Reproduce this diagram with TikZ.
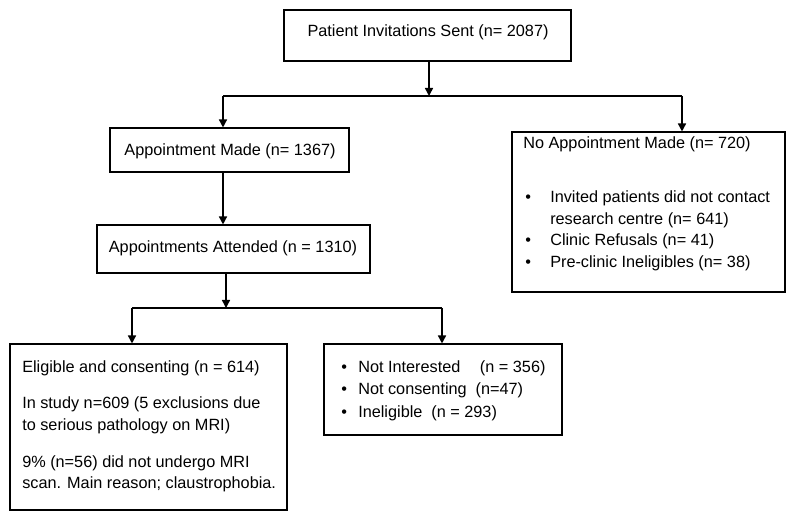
\documentclass[tikz,border=0pt]{standalone}
\usepackage{fontspec}
\setmainfont{Liberation Sans}
\usetikzlibrary{arrows.meta,fit}
\begin{document}
\begin{tikzpicture}[x=0.75pt,y=-0.75pt,
  box/.style={draw=black,line width=0.8pt,inner sep=0pt,fill=none},
  arr/.style={line width=1.1pt,-{Triangle[length=6pt,width=6pt]}},
  ln/.style={line width=1.1pt},
  txt/.style={anchor=base west,inner sep=0pt,font=\fontsize{12.2}{16}\selectfont},
  ctxt/.style={anchor=base,inner sep=0pt,font=\fontsize{12.2}{16}\selectfont}]
\useasboundingbox (0,0) rectangle (800,523);
\fill[white] (0,0) rectangle (800,523);
% boxes
\node[box,fit={(284,10) (571,61)}] (b1) {};
\node[box,fit={(110,128) (349,172)}] (b2) {};
\node[box,fit={(97,225) (370,273)}] (b3) {};
\node[box,fit={(512,132) (785,292)}] (b6) {};
\node[box,fit={(10,344) (287,510)}] (b4) {};
\node[box,fit={(324,344) (562,435)}] (b5) {};
% texts
\node[ctxt] (t1) at (428,37) {Patient Invitations Sent (n= 2087)};
\node[ctxt] (t2) at (230,156) {Appointment Made (n= 1367)};
\node[ctxt] (t3) at (233,253) {Appointments Attended (n = 1310)};
\node[txt] (t6a) at (523,149) {No Appointment Made (n= 720)};
\node[txt] (t6b) at (525,203) {\textbullet};
\node[txt] (t6c) at (550,203) {Invited patients did not contact};
\node[txt] (t6d) at (550,225) {research centre (n= 641)};
\node[txt] (t6e) at (525,246) {\textbullet};
\node[txt] (t6f) at (550,246) {Clinic Refusals (n= 41)};
\node[txt] (t6g) at (525,268) {\textbullet};
\node[txt] (t6h) at (550,268) {Pre-clinic Ineligibles (n= 38)};
\node[txt] (t4a) at (22,373) {Eligible and consenting (n = 614)};
\node[txt] (t4b) at (22,409) {In study n=609 (5 exclusions due};
\node[txt] (t4c) at (22,431) {to serious pathology on MRI)};
\node[txt] (t4d) at (22,468) {9\% (n=56) did not undergo MRI};
\node[txt] (t4e) at (22,489) {scan. Main reason; claustrophobia.};
\node[txt] (t5a) at (341,373) {\textbullet};
\node[txt] (t5b) at (358,373) {Not Interested\hspace{1.2em}(n = 356)};
\node[txt] (t5c) at (341,395) {\textbullet};
\node[txt] (t5d) at (358,395) {Not consenting\hspace{0.55em}(n=47)};
\node[txt] (t5e) at (341,418) {\textbullet};
\node[txt] (t5f) at (358,418) {Ineligible\hspace{0.55em}(n = 293)};
% junctions
\coordinate (M1) at (429,96);
\coordinate (L1) at (223,96);
\coordinate (R1) at (682,96);
\coordinate (M2) at (226,308);
\coordinate (L2) at (132,308);
\coordinate (R2) at (442,308);
% connectors
\draw[arr] (b1.south -| M1) -- (M1);
\draw[ln] (L1) -- (R1);
\draw[arr] (L1) -- (L1 |- b2.north);
\draw[arr] (R1) -- (R1 |- b6.north);
\draw[arr] (L1 |- b2.south) -- (L1 |- b3.north);
\draw[arr] (M2 |- b3.south) -- (M2);
\draw[ln] (L2) -- (R2);
\draw[arr] (L2) -- (L2 |- b4.north);
\draw[arr] (R2) -- (R2 |- b5.north);
\end{tikzpicture}
\end{document}
